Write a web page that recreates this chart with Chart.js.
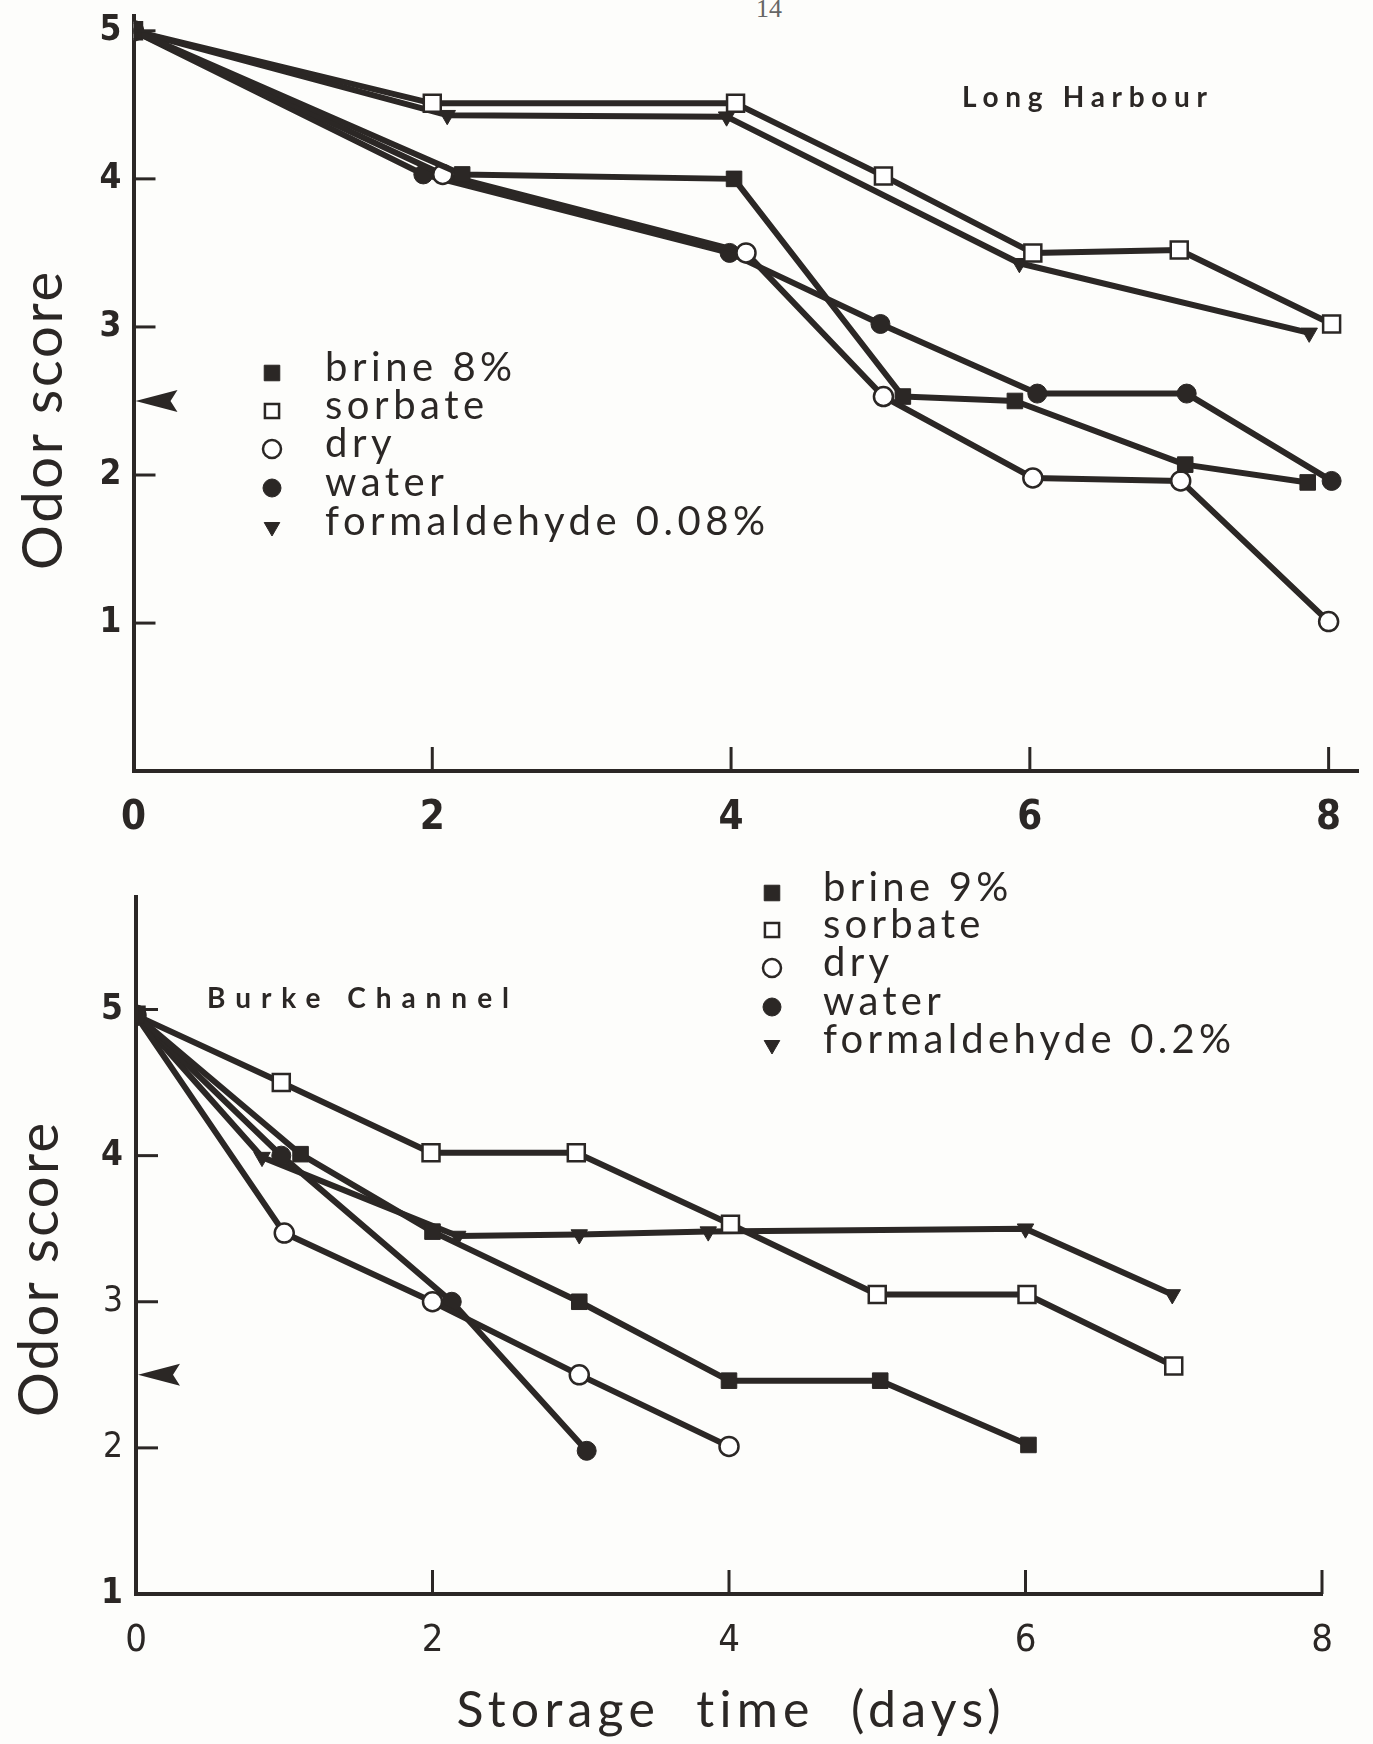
<!DOCTYPE html>
<html>
<head>
<meta charset="utf-8">
<script src="https://cdn.jsdelivr.net/npm/chart.js@4.4.1/dist/chart.umd.min.js"></script>
<style>
  html, body { margin: 0; padding: 0; background: #fdfdfb; }
  #page { position: relative; width: 1373px; height: 1744px; overflow: hidden; }
  canvas { position: absolute; left: 0; }
  #top { top: 0; }
  #bottom { top: 850px; }
  #pageno { position: absolute; left: 756px; top: -6px; font: 26px "Liberation Serif", serif; color: #666; }
</style>
</head>
<body>
<div id="page">
  <div id="pageno">14</div>
  <canvas id="top" width="1373" height="850"></canvas>
  <canvas id="bottom" width="1373" height="894"></canvas>
</div>
<script>
const INK = '#2b2725';

const dayTicks = [0, 2, 4, 6, 8];
const scoreTicks = [1, 2, 3, 4, 5];
const acceptLimit = 2.5; // arrow on the score axis

// Long Harbour
const lhLabels = ['brine 8%', 'sorbate', 'dry', 'water', 'formaldehyde 0.08%'];
const lhBrineX = [0, 2.2, 4.02, 5.15, 5.9, 7.04, 7.86];
const lhBrineY = [5, 4.03, 4.0, 2.53, 2.5, 2.07, 1.95];
const lhSorbateX = [0, 2.0, 4.03, 5.02, 6.02, 7.0, 8.02];
const lhSorbateY = [5, 4.51, 4.51, 4.02, 3.5, 3.52, 3.02];
const lhDryX = [0, 2.07, 4.1, 5.02, 6.02, 7.01, 8.0];
const lhDryY = [5, 4.03, 3.5, 2.53, 1.98, 1.96, 1.01];
const lhWaterX = [0, 1.94, 3.99, 5.0, 6.05, 7.05, 8.02];
const lhWaterY = [5, 4.03, 3.5, 3.02, 2.55, 2.55, 1.96];
const lhFormX = [0, 2.1, 3.97, 5.93, 7.87];
const lhFormY = [5, 4.43, 4.42, 3.43, 2.96];

// Burke Channel
const bcLabels = ['brine 9%', 'sorbate', 'dry', 'water', 'formaldehyde 0.2%'];
const bcBrineX = [0, 1.11, 2.0, 2.99, 4.0, 5.02, 6.02];
const bcBrineY = [4.96, 4.01, 3.48, 3.0, 2.46, 2.46, 2.02];
const bcSorbateX = [0, 0.98, 1.99, 2.97, 4.01, 5.0, 6.01, 7.0];
const bcSorbateY = [4.96, 4.5, 4.02, 4.02, 3.53, 3.05, 3.05, 2.56];
const bcDryX = [0, 1.0, 2.0, 2.99, 4.0];
const bcDryY = [4.96, 3.47, 3.0, 2.5, 2.01];
const bcWaterX = [0, 0.98, 2.13, 3.04];
const bcWaterY = [4.96, 4.0, 3.0, 1.98];
const bcFormX = [0, 0.85, 2.17, 2.99, 3.86, 6.0, 6.99];
const bcFormY = [4.96, 3.99, 3.45, 3.46, 3.48, 3.5, 3.05];

// marker look, same order as the labels
const marks = [
  { shape: 'rect', r: 11, open: false, rot: 0 },
  { shape: 'rect', r: 12, open: true, rot: 0 },
  { shape: 'circle', r: 9.5, open: true, rot: 0 },
  { shape: 'circle', r: 9.5, open: false, rot: 0 },
  { shape: 'triangle', r: 9.5, open: false, rot: 180 }
];

const SANS = 'Lato, "Open Sans", sans-serif';
const NARROW = '"Liberation Sans Narrow", "DejaVu Sans Condensed", "Liberation Sans", sans-serif';

function drawMarker(ctx, m, x, y, r) {
  ctx.save();
  ctx.fillStyle = m.open ? '#fff' : INK;
  ctx.strokeStyle = INK;
  const bw = m.open ? 2.5 : 1;
  ctx.lineWidth = bw;
  Chart.helpers.drawPoint(ctx, { pointStyle: m.shape, radius: r, rotation: m.rot, borderWidth: bw }, x, y);
  ctx.restore();
}

// text stretched with letter spacing to a measured width
function spacedText(ctx, text, x, y, width, align) {
  ctx.letterSpacing = '0px';
  const w0 = ctx.measureText(text).width;
  const ls = (width - w0) / Math.max(text.length - 1, 1);
  ctx.letterSpacing = ls + 'px';
  ctx.textAlign = 'left';
  ctx.fillText(text, align === 'center' ? x - width / 2 : x, y);
  ctx.letterSpacing = '0px';
}

// inward tick marks and the arrow on the score axis
const axisMarks = {
  id: 'axisMarks',
  afterDraw(chart) {
    const { ctx, chartArea: a, scales: { x, y } } = chart;
    ctx.save();
    ctx.strokeStyle = INK;
    ctx.lineWidth = 3;
    dayTicks.forEach(v => {
      if (!v) return;
      const px = x.getPixelForValue(v);
      ctx.beginPath(); ctx.moveTo(px, a.bottom); ctx.lineTo(px, a.bottom - 24); ctx.stroke();
    });
    scoreTicks.forEach(v => {
      if (v <= y.min) return;
      const py = y.getPixelForValue(v);
      ctx.beginPath(); ctx.moveTo(a.left, py); ctx.lineTo(a.left + 22, py); ctx.stroke();
    });
    const py = y.getPixelForValue(acceptLimit), l = a.left + 2;
    ctx.fillStyle = INK;
    ctx.beginPath();
    ctx.moveTo(l, py); ctx.lineTo(l + 42, py - 11); ctx.lineTo(l + 35, py); ctx.lineTo(l + 42, py + 11);
    ctx.closePath(); ctx.fill();
    ctx.restore();
  }
};

// legend, panel name and axis titles
const decor = {
  id: 'decor',
  afterDraw(chart, args, o) {
    const ctx = chart.ctx;
    const sets = chart.data.datasets;
    ctx.save();
    ctx.fillStyle = INK;
    ctx.textBaseline = 'alphabetic';

    const L = o.legend;
    ctx.font = L.font;
    const longest = sets[sets.length - 1].label;
    ctx.letterSpacing = '0px';
    const ls = (L.width - ctx.measureText(longest).width) / (longest.length - 1);
    sets.forEach((d, i) => {
      drawMarker(ctx, marks[i], L.mx, L.rows[i], L.r[i]);
      ctx.fillStyle = INK;
      ctx.font = L.font;
      ctx.letterSpacing = ls + 'px';
      ctx.textAlign = 'left';
      ctx.fillText(d.label, L.tx, L.rows[i] + L.dy);
    });
    ctx.letterSpacing = '0px';

    ctx.font = o.panel.font;
    spacedText(ctx, o.panel.text, o.panel.x, o.panel.y, o.panel.width, 'left');

    const t = o.yTitle;
    ctx.save();
    ctx.translate(t.x, t.y);
    ctx.rotate(-Math.PI / 2);
    ctx.font = t.font;
    spacedText(ctx, t.text, 0, 0, t.width, 'center');
    ctx.restore();

    if (o.xTitle) {
      ctx.font = o.xTitle.font;
      spacedText(ctx, o.xTitle.text, o.xTitle.x, o.xTitle.y, o.xTitle.width, 'center');
    }
    ctx.restore();
  }
};

function makeChart(id, o) {
  const datasets = o.series.map((s, i) => ({
    label: o.labels[i],
    data: s[0].map((x, k) => ({ x: x, y: s[1][k] })),
    showLine: true,
    borderColor: INK,
    borderWidth: 6,
    borderJoinStyle: 'round',
    borderCapStyle: 'round',
    pointStyle: marks[i].shape,
    pointRadius: marks[i].r,
    pointHoverRadius: marks[i].r,
    pointRotation: marks[i].rot,
    pointBackgroundColor: marks[i].open ? '#fff' : INK,
    pointBorderColor: INK,
    pointBorderWidth: marks[i].open ? 2.5 : 1
  }));

  return new Chart(document.getElementById(id), {
    type: 'scatter',
    data: { datasets: datasets },
    options: {
      responsive: false,
      animation: false,
      events: [],
      layout: { padding: o.pad },
      plugins: { legend: { display: false }, tooltip: { enabled: false }, decor: o.decor },
      scales: {
        x: {
          type: 'linear', min: 0, max: o.xMax,
          afterBuildTicks: s => { s.ticks = dayTicks.map(v => ({ value: v })); },
          afterFit: s => { s.height = o.xh; s.paddingLeft = 0; s.paddingRight = 0; },
          grid: { display: false, drawTicks: false },
          border: { color: INK, width: 4 },
          ticks: { color: INK, font: o.xFont, padding: o.xPad, maxRotation: 0, autoSkip: false }
        },
        y: {
          type: 'linear', min: o.yMin, max: o.yMax,
          afterBuildTicks: s => { s.ticks = scoreTicks.filter(v => v >= o.yMin).map(v => ({ value: v })); },
          afterFit: s => { s.width = o.yw; s.paddingTop = 0; s.paddingBottom = 0; },
          grid: { display: false, drawTicks: false },
          border: { color: INK, width: 4 },
          ticks: { color: INK, font: o.yFont, padding: o.yPad }
        }
      }
    },
    plugins: [axisMarks, decor]
  });
}

makeChart('top', {
  labels: lhLabels,
  series: [[lhBrineX, lhBrineY], [lhSorbateX, lhSorbateY], [lhDryX, lhDryY], [lhWaterX, lhWaterY], [lhFormX, lhFormY]],
  pad: { left: 0, top: 16, right: 11, bottom: 0 },
  xMax: 8.2, yMin: 0.001, yMax: 5.1,
  xh: 79, yw: 133.5,
  xFont: { family: NARROW, size: 40, weight: 'bold' }, xPad: 24,
  yFont: { family: NARROW, size: 35, weight: 'bold' }, yPad: 12,
  decor: {
    legend: { font: '40px ' + SANS, mx: 272, tx: 325, rows: [373, 411, 449, 488, 527], dy: 8, width: 440, r: [11, 10, 9, 9, 9] },
    panel: { text: 'Long Harbour', font: 'bold 28px ' + SANS, x: 962, y: 107, width: 245 },
    yTitle: { text: 'Odor score', font: '56px ' + SANS, x: 62, y: 421, width: 298 }
  }
});

makeChart('bottom', {
  labels: bcLabels,
  series: [[bcBrineX, bcBrineY], [bcSorbateX, bcSorbateY], [bcDryX, bcDryY], [bcWaterX, bcWaterY], [bcFormX, bcFormY]],
  pad: { left: 0, top: 47, right: 51, bottom: 0 },
  xMax: 8, yMin: 1, yMax: 5.77,
  xh: 150, yw: 136,
  xFont: { family: NARROW, size: 38 }, xPad: 24,
  yFont: c => ({ family: NARROW, size: 35, weight: [1, 4, 5].includes(c.tick && c.tick.value) ? 'bold' : 'normal' }), yPad: 13,
  decor: {
    legend: { font: '40px ' + SANS, mx: 772, tx: 823, rows: [43, 80, 118, 157, 195], dy: 8, width: 408, r: [11, 10, 9, 9, 9] },
    panel: { text: 'Burke Channel', font: 'bold 28px ' + SANS, x: 207, y: 158, width: 302 },
    yTitle: { text: 'Odor score', font: '56px ' + SANS, x: 58, y: 420, width: 294 },
    xTitle: { text: 'Storage  time  (days)', font: '50px ' + SANS, x: 729, y: 877, width: 545 }
  }
});
</script>
</body>
</html>
